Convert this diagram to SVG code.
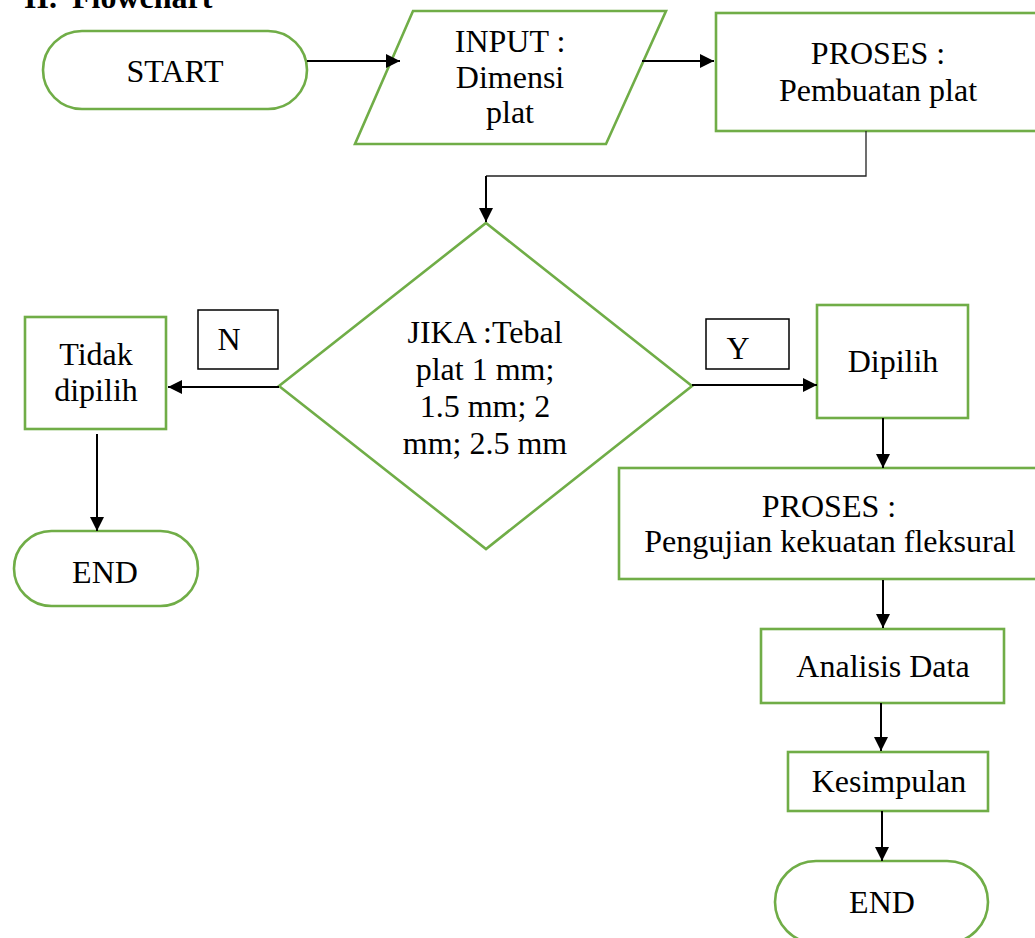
<svg xmlns="http://www.w3.org/2000/svg" width="1035" height="938" viewBox="0 0 1035 938">
<style>
.n{fill:#fff;stroke:#70AD47;stroke-width:2.6}
.lb{fill:#fff;stroke:#000;stroke-width:1.5}
.t{font-family:"Liberation Serif","Times New Roman",serif;font-size:32px;fill:#000;text-anchor:middle}
.c{fill:none;stroke:#000;stroke-width:2}
.thin{fill:none;stroke:#222;stroke-width:1.3}
.ttl{font-family:"Liberation Serif","Times New Roman",serif;font-size:32px;font-weight:bold;fill:#000}
</style>
<defs>
<marker id="ah" markerUnits="userSpaceOnUse" markerWidth="16" markerHeight="16" viewBox="0 0 16 16" refX="15" refY="8" orient="auto">
<path d="M1,1 L15,8 L1,15 Z" fill="#000"/>
</marker>
</defs>
<rect width="1035" height="938" fill="#fff"/>
<text class="ttl" y="8"><tspan x="24">II.</tspan><tspan x="72">Flowchart</tspan></text>

<g id="start"><rect class="n" x="43" y="31" width="264" height="78" rx="39"/><text class="t" x="175" y="82">START</text></g>
<g id="input"><polygon class="n" points="413,11 666,11 606,144 355,144"/><text class="t" x="510" y="52">INPUT :</text><text class="t" x="510" y="88">Dimensi</text><text class="t" x="510" y="123">plat</text></g>
<g id="proses1"><rect class="n" x="716" y="13" width="330" height="118"/><text class="t" x="878" y="64">PROSES :</text><text class="t" x="878" y="101">Pembuatan plat</text></g>
<g id="decision"><polygon class="n" points="486,223 692,386 486,549 279,386"/><text class="t" x="485" y="343">JIKA :Tebal</text><text class="t" x="485" y="380">plat 1 mm;</text><text class="t" x="485" y="417">1.5 mm; 2</text><text class="t" x="485" y="454">mm; 2.5 mm</text></g>
<g id="labelN"><rect class="lb" x="198" y="310" width="80" height="59"/><text class="t" x="229" y="350">N</text></g>
<g id="labelY"><rect class="lb" x="706" y="319" width="83" height="50"/><text class="t" x="738" y="359">Y</text></g>
<g id="tidak"><rect class="n" x="25" y="317" width="141" height="112"/><text class="t" x="96" y="365">Tidak</text><text class="t" x="96" y="401">dipilih</text></g>
<g id="end1"><rect class="n" x="14" y="531" width="184" height="75" rx="37.5"/><text class="t" x="105" y="583">END</text></g>
<g id="dipilih"><rect class="n" x="817" y="305" width="151" height="113"/><text class="t" x="893" y="372">Dipilih</text></g>
<g id="proses2"><rect class="n" x="619" y="468" width="425" height="111"/><text class="t" x="829" y="517">PROSES :</text><text class="t" x="830" y="552">Pengujian kekuatan fleksural</text></g>
<g id="analisis"><rect class="n" x="761" y="629" width="243" height="74"/><text class="t" x="883" y="677">Analisis Data</text></g>
<g id="kesimpulan"><rect class="n" x="788" y="752" width="200" height="59"/><text class="t" x="889" y="792">Kesimpulan</text></g>
<g id="end2"><rect class="n" x="775" y="861" width="213" height="82" rx="41"/><text class="t" x="882" y="913">END</text></g>

<g id="connectors">
<line class="c" x1="307" y1="61" x2="400" y2="61" marker-end="url(#ah)"/>
<line class="c" x1="642" y1="61" x2="714" y2="61" marker-end="url(#ah)"/>
<polyline class="thin" points="866,131 866,176 486,176"/>
<line class="c" x1="486" y1="176" x2="486" y2="222" marker-end="url(#ah)"/>
<line class="c" x1="279" y1="387" x2="168" y2="387" marker-end="url(#ah)"/>
<line class="c" x1="97" y1="434" x2="97" y2="531" marker-end="url(#ah)"/>
<line class="c" x1="692" y1="385" x2="817" y2="385" marker-end="url(#ah)"/>
<line class="c" x1="883" y1="418" x2="883" y2="468" marker-end="url(#ah)"/>
<line class="c" x1="883" y1="580" x2="883" y2="628" marker-end="url(#ah)"/>
<line class="c" x1="881" y1="703" x2="881" y2="751" marker-end="url(#ah)"/>
<line class="c" x1="882" y1="811" x2="882" y2="861" marker-end="url(#ah)"/>
</g>
</svg>
